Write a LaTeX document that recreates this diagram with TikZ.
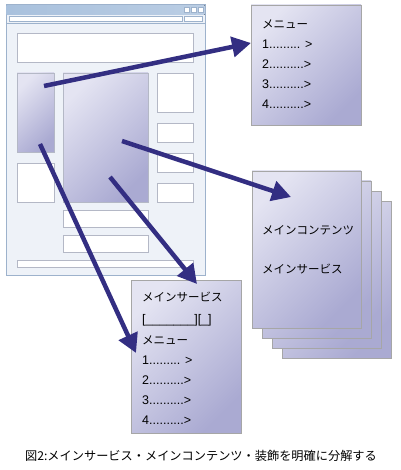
\documentclass[tikz,border=0pt]{standalone}
\usepackage{fontspec}
\setmainfont{Liberation Sans}
\newfontfamily\jp{Noto Sans CJK JP}
\usetikzlibrary{arrows.meta}
\definecolor{arrowc}{HTML}{332E82}
\definecolor{winbg}{HTML}{EEF2F8}
\definecolor{winborder}{HTML}{9DB2CC}
\definecolor{boxborder}{HTML}{B4B8C6}
\definecolor{lightp}{HTML}{E4E4F2}
\definecolor{darkp}{HTML}{AAAAD2}
\definecolor{titlec}{HTML}{A9C1DD}
\tikzset{
  winbox/.style={draw=boxborder, fill=white, line width=0.7pt},
  purp/.style={draw=boxborder, line width=0.7pt, top color=lightp, bottom color=darkp, shading angle=45},
  paper/.style={draw=gray!70, line width=0.7pt, top color=lightp, bottom color=darkp, shading angle=45},
  txt/.style={anchor=west, inner sep=0pt, font=\jp\fontsize{11.5}{13}\selectfont},
  num/.style={anchor=west, inner sep=0pt, font=\fontsize{12.5}{14}\selectfont},
  arr/.style={draw=arrowc, line width=4.5pt, -{Triangle[length=19pt,width=20pt]}},
}
\begin{document}
\begin{tikzpicture}[x=1pt,y=-1pt]
\useasboundingbox (0,0) rectangle (400,470);
% browser window
\draw[draw=winborder, fill=winbg, line width=1pt] (6,5) rectangle (205,275);
\fill[left color=titlec, right color=titlec!80!white] (6.5,5.5) rectangle (204.5,15);
\draw[winborder, fill=white, line width=0.5pt] (184,7) rectangle (189.5,12);
\draw[winborder, fill=white, line width=0.5pt] (191,7) rectangle (196.5,12);
\draw[winborder, fill=white, line width=0.5pt] (198,7) rectangle (203.5,12);
\draw[winborder, fill=white, line width=0.6pt] (9,16) rectangle (182,21);
\draw[winborder, fill=white, line width=0.6pt] (184,16) rectangle (202,21);
\draw[winborder, line width=0.6pt] (6,23) -- (205,23);
% content boxes
\draw[winbox] (17,33) rectangle (193,62);
\draw[purp] (17,73) rectangle (54,152);
\draw[purp] (63,73) rectangle (148,202);
\draw[winbox] (157,73) rectangle (193,112);
\draw[winbox] (157,123) rectangle (193,142);
\draw[winbox] (157,153) rectangle (193,172);
\draw[winbox] (157,183) rectangle (193,202);
\draw[winbox] (17,163) rectangle (54,202);
\draw[winbox] (63,210) rectangle (148,227);
\draw[winbox] (63,235) rectangle (148,252);
\draw[winbox] (17,260) rectangle (193,267);
% menu box
\draw[paper] (251,5) rectangle (361,125);
\node[txt] (m0) at (262,24) {メニュー};
\node[num] (m1) at (262,44) {1......... >};
\node[num] (m2) at (262,64) {2..........>};
\node[num] (m3) at (262,84) {3..........>};
\node[num] (m4) at (262,104) {4..........>};
% stack
\draw[paper] (282,201) rectangle (391,358);
\draw[paper] (272,191) rectangle (381,348);
\draw[paper] (262,181) rectangle (371,338);
\draw[paper] (252,171) rectangle (361,328);
\node[txt] (s1) at (262,230) {メインコンテンツ};
\node[txt] (s2) at (262,269) {メインサービス};
% bottom box
\draw[paper] (131,280) rectangle (241,433);
\node[txt] (b1) at (142,297) {メインサービス};
\node[num] (b2) at (142,320) {[\_\_\_\_\_\_\_][\_]};
\node[txt] (b3) at (142,340) {メニュー};
\node[num] (b4) at (142,360) {1......... >};
\node[num] (b5) at (142,380) {2..........>};
\node[num] (b6) at (142,400) {3..........>};
\node[num] (b7) at (142,420) {4..........>};
% arrows
\coordinate (a1s) at (44,86);
\coordinate (a1e) at (251,43);
\coordinate (a2s) at (122,141);
\coordinate (a2e) at (291,197);
\coordinate (a3s) at (110,177);
\coordinate (a3e) at (197,284);
\coordinate (a4s) at (40,144);
\coordinate (a4e) at (136,353);
\draw[arr] (a1s) -- (a1e);
\draw[arr] (a2s) -- (a2e);
\draw[arr] (a3s) -- (a3e);
\draw[arr] (a4s) -- (a4e);
% caption
\node[inner sep=0pt, font=\jp\fontsize{12.2}{14}\selectfont] (cap) at (201,456) {図2:メインサービス・メインコンテンツ・装飾を明確に分解する};
\end{tikzpicture}
\end{document}
